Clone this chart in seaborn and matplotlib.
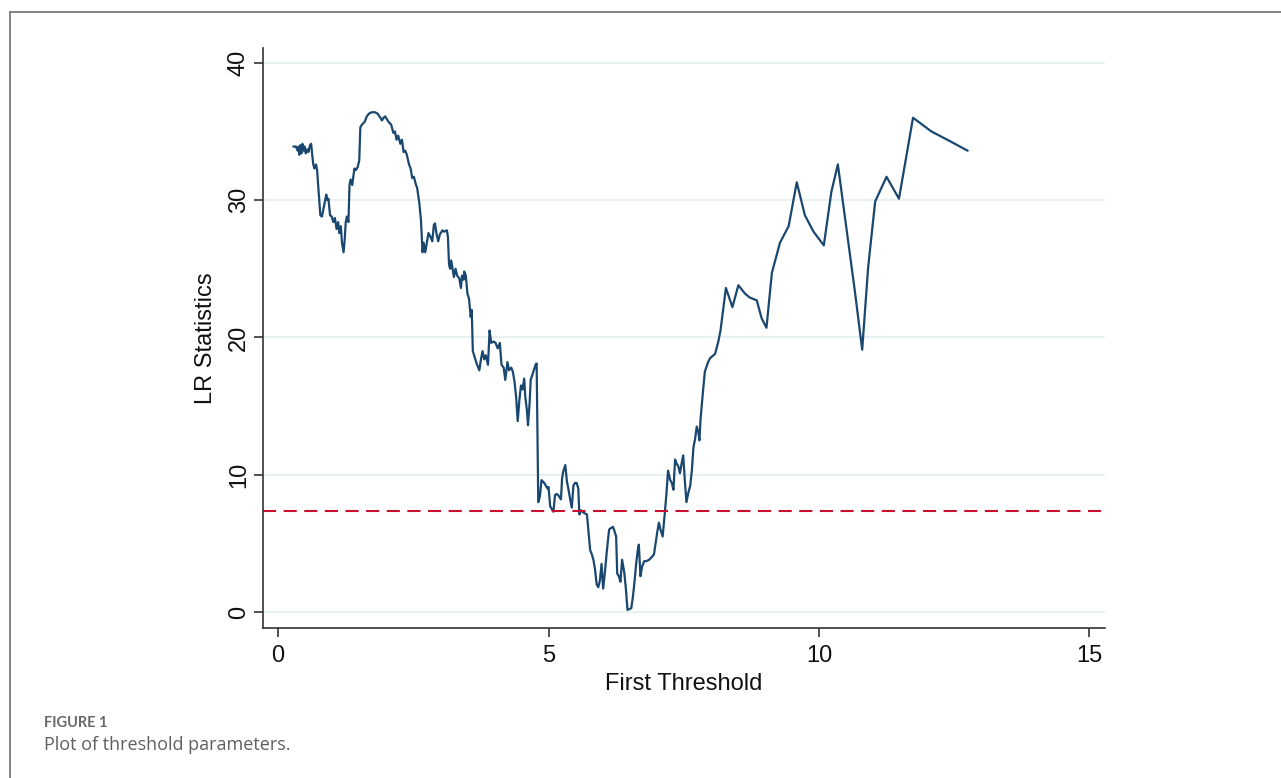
import matplotlib
matplotlib.use("Agg")
import matplotlib.pyplot as plt
from matplotlib.lines import Line2D
import pandas as pd
import seaborn as sns

# values
threshold = [
    0.28, 0.33, 0.36, 0.38, 0.39, 0.41, 0.43, 0.45, 0.47, 0.49,
    0.51, 0.54, 0.56, 0.59, 0.61, 0.63, 0.65, 0.67, 0.70, 0.72,
    0.75, 0.78, 0.81, 0.84, 0.87, 0.89, 0.91, 0.93, 0.96, 0.99,
    1.02, 1.05, 1.08, 1.11, 1.13, 1.16, 1.18, 1.21, 1.23, 1.25,
    1.27, 1.30, 1.32, 1.34, 1.37, 1.41, 1.44, 1.47, 1.50, 1.52,
    1.55, 1.60, 1.64, 1.68, 1.73, 1.79, 1.84, 1.89, 1.92, 1.95,
    1.98, 2.01, 2.04, 2.09, 2.13, 2.16, 2.19, 2.22, 2.26, 2.29,
    2.32, 2.35, 2.38, 2.42, 2.45, 2.48, 2.51, 2.55, 2.57, 2.61,
    2.64, 2.67, 2.69, 2.72, 2.75, 2.78, 2.82, 2.85, 2.88,
    2.90, 2.93, 2.96, 2.99, 3.04, 3.07, 3.12, 3.14, 3.16, 3.18,
    3.20, 3.23, 3.25, 3.28, 3.31, 3.35, 3.38, 3.40, 3.43, 3.44,
    3.47, 3.50, 3.53, 3.56, 3.58, 3.60, 3.64, 3.67, 3.72, 3.75,
    3.78, 3.81, 3.84, 3.88, 3.91, 3.94, 3.98, 4.02, 4.06, 4.10,
    4.13, 4.17, 4.20, 4.24, 4.27, 4.31, 4.34, 4.37, 4.40, 4.43,
    4.46, 4.49, 4.52, 4.55, 4.57, 4.60, 4.62, 4.65, 4.67, 4.72,
    4.76, 4.78,
    4.81, 4.84, 4.87, 4.92, 4.95, 4.98, 5.00, 5.03, 5.06, 5.09,
    5.12, 5.15, 5.18, 5.23, 5.25, 5.27, 5.31, 5.34, 5.37, 5.40,
    5.43, 5.46, 5.49, 5.52, 5.55, 5.57, 5.60, 5.63, 5.66, 5.71,
    5.74, 5.77, 5.80, 5.83, 5.86, 5.89, 5.92, 5.95, 5.98, 6.01,
    6.04, 6.08, 6.12, 6.15, 6.19, 6.21, 6.25, 6.27, 6.30, 6.33,
    6.36, 6.40, 6.43, 6.46, 6.49, 6.53, 6.56, 6.59, 6.62, 6.65,
    6.67, 6.70, 6.73, 6.77, 6.81, 6.86, 6.91, 6.95, 6.98, 7.01,
    7.04, 7.07, 7.11, 7.15, 7.18, 7.21, 7.25, 7.28, 7.31, 7.34,
    7.37, 7.40, 7.43, 7.46, 7.49, 7.52, 7.55, 7.58, 7.62, 7.65,
    7.68, 7.71, 7.74, 7.77, 7.79, 7.81, 7.85, 7.89,
    7.95, 7.99, 8.08, 8.14, 8.18, 8.28, 8.40, 8.51, 8.63, 8.72,
    8.85, 8.94, 9.03, 9.13, 9.28, 9.44, 9.59, 9.74, 9.90, 10.09,
    10.23, 10.35, 10.51, 10.67, 10.80, 10.91, 11.04, 11.25, 11.48, 11.74,
    12.08, 12.42, 12.75,
]
lr_stat = [
    33.9, 33.9, 33.6, 33.9, 33.3, 34.0, 33.4, 34.1, 33.6, 33.9,
    33.4, 33.7, 33.5, 34.0, 34.1, 33.3, 32.6, 32.3, 32.6, 32.2,
    30.5, 28.9, 28.8, 29.4, 30.0, 30.4, 30.0, 30.1, 28.9, 28.8,
    28.4, 28.7, 27.9, 28.4, 27.6, 28.1, 26.9, 26.2, 27.1, 28.4,
    28.8, 28.4, 31.1, 31.5, 31.1, 32.3, 32.2, 32.4, 32.9, 35.3,
    35.5, 35.7, 36.1, 36.3, 36.4, 36.4, 36.3, 36.0, 35.8, 36.0,
    36.1, 35.9, 35.7, 35.5, 34.9, 35.0, 34.4, 34.7, 34.1, 34.4,
    33.5, 33.6, 33.3, 32.6, 32.3, 31.6, 31.7, 31.1, 30.9, 29.8,
    28.6, 26.2, 26.9, 26.2, 26.9, 27.6, 27.3, 27.0, 28.2,
    28.3, 27.5, 27.0, 27.5, 27.8, 27.7, 27.8, 27.3, 25.3, 25.0,
    25.6, 24.9, 24.4, 25.0, 24.5, 24.3, 23.6, 24.5, 24.2, 24.8,
    24.5, 23.2, 22.8, 21.5, 22.0, 19.0, 18.5, 18.1, 17.6, 18.4,
    19.0, 18.4, 18.7, 18.0, 20.5, 19.6, 19.7, 19.6, 19.2, 19.6,
    18.0, 17.8, 16.9, 18.2, 17.6, 17.8, 17.5, 16.8, 15.7, 13.9,
    15.4, 16.5, 16.2, 17.0, 15.7, 14.7, 13.6, 15.2, 16.9, 17.5,
    18.0, 18.1,
    8.0, 8.4, 9.6, 9.4, 9.2, 9.0, 9.1, 7.7, 7.5, 7.3,
    8.5, 8.6, 8.5, 8.2, 9.7, 10.2, 10.7, 9.5, 8.9, 8.2,
    7.6, 9.2, 9.4, 9.4, 9.0, 7.1, 7.4, 7.3, 7.2, 7.1,
    5.8, 4.5, 4.2, 3.8, 3.1, 2.0, 1.8, 2.3, 3.5, 1.7,
    2.8, 4.5, 6.0, 6.1, 6.2, 6.0, 5.5, 2.8, 2.6, 2.2,
    3.8, 2.9, 1.7, 0.15, 0.2, 0.27, 1.1, 2.2, 3.5, 4.5,
    4.9, 2.6, 3.3, 3.7, 3.7, 3.8, 4.0, 4.2, 5.0, 5.8,
    6.5, 6.0, 5.5, 7.2, 8.6, 10.3, 9.6, 9.4, 8.9, 11.1,
    10.8, 10.6, 10.1, 10.8, 11.4, 9.6, 8.0, 8.6, 9.2, 10.3,
    12.0, 12.6, 13.5, 13.1, 12.5, 14.0, 15.8, 17.5,
    18.2, 18.5, 18.8, 19.7, 20.5, 23.6, 22.2, 23.8, 23.2, 22.9,
    22.7, 21.4, 20.7, 24.7, 26.9, 28.1, 31.3, 28.9, 27.7, 26.7,
    30.6, 32.6, 27.9, 23.2, 19.1, 25.1, 29.9, 31.7, 30.1, 36.0,
    35.0, 34.3, 33.6,
]
crit_value = 7.35
x_ticks = [0, 5, 10, 15]
y_ticks = [0, 10, 20, 30, 40]

sns.set_style("white")
plt.rcParams['font.family'] = ['Liberation Sans', 'DejaVu Sans']

df = pd.DataFrame({'threshold': threshold, 'lr': lr_stat})

W, H = 1281, 778
fig = plt.figure(figsize=(W / 100, H / 100), dpi=100)
ax = fig.add_axes([263 / W, 150 / H, 842 / W, 580 / H])

ax.set_axisbelow(True)
ax.yaxis.grid(True, color='#e8f1f2', lw=1.4)
ax.xaxis.grid(False)

sns.lineplot(data=df, x='threshold', y='lr', sort=False, estimator=None,
             color='#1a476f', lw=1.6, ax=ax)
ax.axhline(crit_value, color='#c8102e', lw=1.5, dashes=(6.3, 3.6))

ax.set_xlim(-0.28, 15.29)
ax.set_ylim(-1.17, 41.08)
ax.set_xticks(x_ticks)
ax.set_yticks(y_ticks)

for side in ['top', 'right']:
    ax.spines[side].set_visible(False)
for side in ['left', 'bottom']:
    ax.spines[side].set_color('#333333')
    ax.spines[side].set_linewidth(1.2)

ax.tick_params(axis='both', direction='out', length=6.5, width=1.2,
               color='#333333', labelsize=17, labelcolor='#111111',
               bottom=True, left=True)
ax.tick_params(axis='x', pad=6)
ax.tick_params(axis='y', pad=3)
for lab in ax.get_yticklabels():
    lab.set_rotation(90)
    lab.set_va('center')

ax.set_xlabel('First Threshold', fontsize=17, color='#111111', labelpad=4)
ax.set_ylabel('LR Statistics', fontsize=17, color='#111111', labelpad=8)

# figure frame and caption
frame_kw = dict(transform=fig.transFigure, color='#6e6e6e', lw=1.2)
fig.add_artist(Line2D([9.5 / W, 9.5 / W], [0, 1 - 11.5 / H], **frame_kw))
fig.add_artist(Line2D([9.5 / W, 1], [1 - 11.5 / H, 1 - 11.5 / H], **frame_kw))

fig.text(44 / W, 1 - 727 / H, 'FIGURE 1', family=['Lato', 'DejaVu Sans'],
         fontweight='bold', fontsize=10.5, color='#6a6a6a', va='baseline')
fig.text(44 / W, 1 - 750 / H, 'Plot of threshold parameters.',
         family=['Open Sans', 'DejaVu Sans'], fontsize=13, color='#606060',
         va='baseline')

fig.savefig('out.png', dpi=100)
